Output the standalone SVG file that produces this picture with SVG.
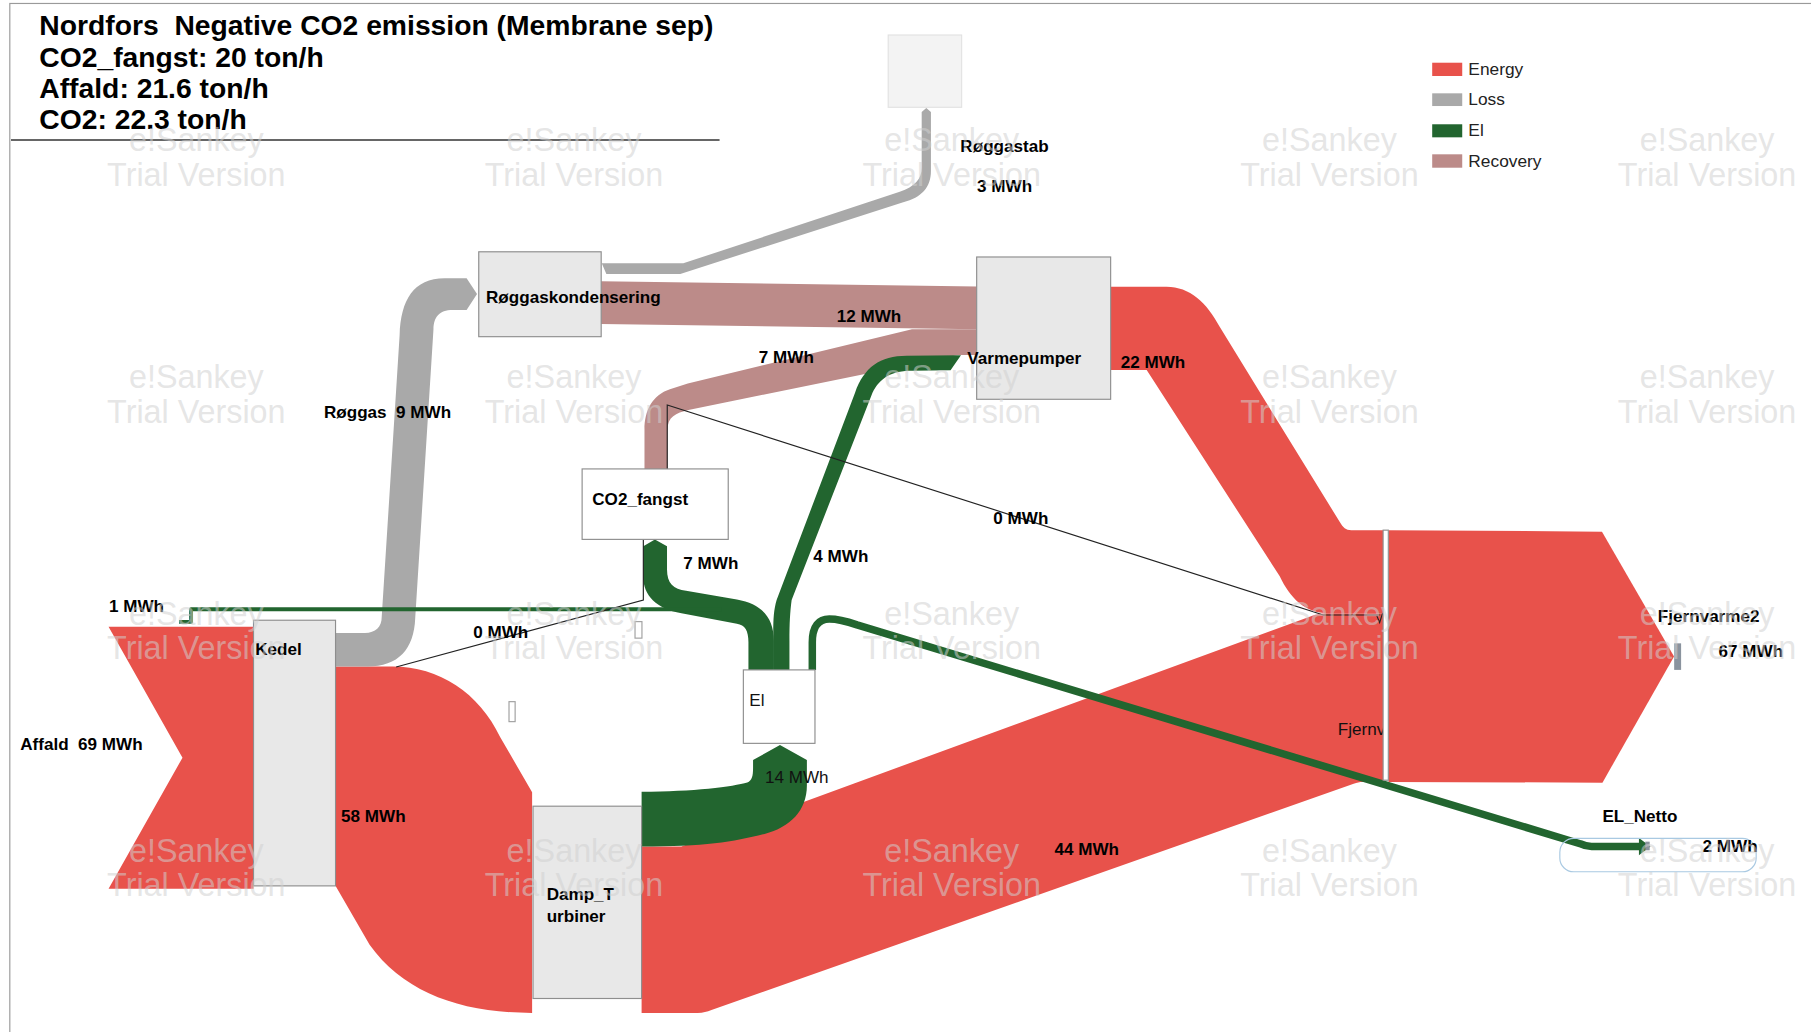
<svg xmlns="http://www.w3.org/2000/svg" width="1811" height="1032" viewBox="0 0 1811 1032">
<style>
  .energy{fill:#e8524b}
  .loss{fill:#a9a9a9}
  .el{fill:#22652f}
  .rec{fill:#bc8b89}
  .node{fill:#e8e8e8;stroke:#8e8e8e;stroke-width:1}
  .nodew{fill:#ffffff;stroke:#8e8e8e;stroke-width:1}
  .sink{fill:#8a939e}
  .hole{fill:#ffffff;stroke:#a0a0a0;stroke-width:1}
  .thin{fill:none;stroke:#222222;stroke-width:1}
  .elline{fill:none;stroke:#22652f;stroke-linejoin:round}
  text{font-family:"Liberation Sans",Arial,Helvetica,sans-serif}
  .lbl{font-size:14.8px;font-weight:bold;fill:#000}
  .reg{font-size:14.8px;fill:#111}
  .hdr{font-size:24.5px;font-weight:bold;fill:#000}
  .leg{font-size:15px;fill:#222}
  .wm{font-size:28px;fill:#d0d0d0;fill-opacity:.55;text-anchor:middle}
</style>
<defs>
  <clipPath id="fjclip"><rect x="1100" y="600" width="97.5" height="60"/></clipPath>
</defs>
<rect width="1811" height="1032" fill="#ffffff"/>
<g transform="scale(1.155)">
  <!-- outer frame -->
  <rect x="8.5" y="3" width="1580" height="905" fill="none" stroke="#9a9a9a" stroke-width="1"/>

  <!-- header -->
  <g id="header">
    <text class="hdr" x="34" y="30">Nordfors&#160; Negative CO2 emission (Membrane sep)</text>
    <text class="hdr" x="34" y="58">CO2_fangst: 20 ton/h</text>
    <text class="hdr" x="34" y="85">Affald: 21.6 ton/h</text>
    <text class="hdr" x="34" y="112">CO2: 22.3 ton/h</text>
    <line x1="9.5" y1="121.2" x2="623" y2="121.2" stroke="#333" stroke-width="1.2"/>
  </g>

  <!-- legend -->
  <g id="legend">
    <rect class="energy" x="1240" y="54.3" width="26" height="11.5"/>
    <text class="leg" x="1271.3" y="65">Energy</text>
    <rect class="loss" x="1240" y="80.8" width="26" height="11"/>
    <text class="leg" x="1271.3" y="91.3">Loss</text>
    <rect class="el" x="1240" y="107.6" width="26" height="11.3"/>
    <text class="leg" x="1271.3" y="117.8">El</text>
    <rect class="rec" x="1240" y="133.6" width="26" height="11.6"/>
    <text class="leg" x="1271.3" y="144.3">Recovery</text>
  </g>

  <!-- flows -->
  <g id="connectors">
    <!-- Affald input -->
    <path class="energy" d="M94,542.6 L219.5,542.6 L219.5,769.5 L94,769.5 L158,656 Z"/>
    <!-- Kedel to Damp_Turbiner, 58 MWh -->
    <path class="energy" d="M290.6,577 L340,577 C380,577 415,600 433,638 L460.7,686 L460.7,877 C400,877 350,860 320,818 L290.6,767 Z"/>
    <!-- Damp_Turbiner to Fjernvarme, 44 MWh -->
    <path class="energy" d="M555.5,733 L590,733 L1138,532.5 C1142,531.5 1146,531 1150,531 L1198,531 L1198,677 L1180,677 C1177,677 1175,677.5 1172,678.5 L616,874.5 C612,876 609,877 604,877 L555.5,877 Z"/>
    <!-- Varmepumper to Fjernvarme, 22 MWh -->
    <path class="energy" d="M961.6,248.2 L1010,248.2 C1030,248.2 1045,262 1056,283 L1160,452 C1163,457 1165,459 1170,459 L1198,459 L1198,531 L1150,531 C1130,531 1117,518 1108,499 L992.8,320.3 L961.6,320.3 Z"/>
    <!-- Fjernvarme to Fjernvarme2, 67 MWh -->
    <path class="energy" d="M1202.2,459 L1387,460.3 L1449.4,568.5 L1387.4,677.6 L1202.2,677 Z"/>

    <!-- Røggas, Kedel to Røggaskondensering -->
    <path class="loss" d="M290.6,548 L316,548 C325,548 330.5,543 330.5,534 L346,290 C347,260 358,241 385,241 L404,241 L413,254.5 L404,268.5 L392,268.5 C380,268.5 375.5,275 375.3,285 L359.5,535 C358.5,562 345,577 318,577 L290.6,577 Z"/>
    <!-- Røggastab, 3 MWh -->
    <path class="loss" d="M521,228 L591.6,228 L779,166 C792,161.5 798,155 798,145 L798,97 L802,93.5 L806,97 L806,148 C806,162 798,171 782,175 L589,237.2 L525,237.2 Z"/>

    <!-- Recovery 12 MWh -->
    <path class="rec" d="M520.4,243.5 L845.6,248 L845.6,285 L520.4,280.5 Z"/>
    <!-- Recovery 7 MWh, CO2_fangst to Varmepumper -->
    <path class="rec" d="M558,406 L558,372 C558,355 565,342 580,337 L595.5,332 L789.6,285 L845.6,285 L845.6,307.4 L829.5,307.4 L596,355 C585,357.5 578,361 578,372 L578,406 Z"/>

    <!-- El 14 MWh, Damp_Turbiner to El -->
    <path class="el" d="M555.5,685.5 C600,685.5 635,681 647,677.5 C651,676 652,672 652,665 L652,658 L675.3,645 L698.6,658 L698.6,680 C698.6,702 684,716 662,722 C635,729 610,733 555.5,733 Z"/>
    <!-- El 7 MWh, El to CO2_fangst -->
    <path class="el" d="M557,473 L567,467 L577.5,473 L577.5,493 C577.5,505 583,510 594,511.5 L638,519 C660,523 670,535 670,555 L670,580 L648,580 L648,556 C648,546 645,541 638,540 L590,531 C568,527 557,515 557,500 Z"/>
    <!-- El 4 MWh, El to Varmepumper -->
    <path class="el" d="M669.5,580 L669.5,548 C669.5,535 670,528 672.4,519.5 L740.3,340 C748,318 762,308 785,308 L832,307.5 L823,320.5 L790,321 C772,321 762,327 755.4,340 L685.4,519.5 C684,530 683.5,540 683.5,555 L683.5,580 Z"/>
    <!-- El 1 MWh to Kedel -->
    <path class="elline" stroke-width="3.3" d="M155,538.5 L165.4,538.5 L165.4,527.5 L625,527.5"/>
    <!-- El 2 MWh to EL_Netto -->
    <path class="elline" stroke-width="6.5" d="M703.3,580 L703.3,556 C703.3,542 709,536 718,536 C726,536 733,538 742,541 L1368,730.5 C1371,732 1374,733 1378,733 L1420,733"/>
    <polygon class="el" points="1419,725.5 1429,733 1419,740.5"/>

    <!-- zero flows -->
    <polyline class="thin" points="343,577.5 557,519.5 557,467"/>
    <polyline class="thin" points="577.7,406 577.7,350.6 1145.7,532.5 1195,532.5"/>
    <polyline class="thin" points="1192,533 1194.5,539 1197,531"/>

    <!-- flow values -->
    <text class="lbl" x="17.5" y="649.4">Affald&#160; 69 MWh</text>
    <text class="lbl" x="94.3" y="529.6">1 MWh</text>
    <text class="lbl" x="409.7" y="552.6">0 MWh</text>
    <text class="lbl" x="295.3" y="711.4">58 MWh</text>
    <text class="lbl" x="280.5" y="362.2">Røggas&#160; 9 MWh</text>
    <text class="lbl" x="846" y="166">3 MWh</text>
    <text class="lbl" x="724.4" y="278.5">12 MWh</text>
    <text class="lbl" x="657" y="314">7 MWh</text>
    <text class="lbl" x="970.3" y="318.3">22 MWh</text>
    <text class="lbl" x="860" y="454">0 MWh</text>
    <text class="lbl" x="704.2" y="486.3">4 MWh</text>
    <text class="lbl" x="591.6" y="493">7 MWh</text>
    <text class="reg" x="662.3" y="677.6">14 MWh</text>
    <text class="lbl" x="913" y="740">44 MWh</text>
  </g>

  <!-- nodes -->
  <g id="node-roggastab">
    <rect x="769" y="30.3" width="63.6" height="62.6" fill="#f3f3f3" stroke="#e2e2e2" stroke-width="1"/>
    <text class="lbl" x="831.5" y="131.3">Røggastab</text>
  </g>
  <g id="node-roggaskondensering">
    <rect class="node" x="414.5" y="218" width="106" height="73.5"/>
    <text class="lbl" x="420.8" y="262.6">Røggaskondensering</text>
  </g>
  <g id="node-varmepumper">
    <rect class="node" x="845.6" y="222.5" width="116" height="123.2"/>
    <text class="lbl" x="837.5" y="315.2">Varmepumper</text>
  </g>
  <g id="node-co2-fangst">
    <rect class="nodew" x="504" y="406" width="126.5" height="61"/>
    <text class="lbl" x="512.8" y="437.2">CO2_fangst</text>
  </g>
  <g id="node-kedel">
    <rect class="node" x="219.5" y="537" width="71" height="230"/>
    <text class="lbl" x="221" y="567">Kedel</text>
  </g>
  <g id="node-damp-turbiner">
    <rect class="node" x="461.5" y="698" width="94" height="166.5"/>
    <text class="lbl" x="473.3" y="779.2">Damp_T</text>
    <text class="lbl" x="473.3" y="798">urbiner</text>
  </g>
  <g id="node-el">
    <rect class="nodew" x="643.6" y="580" width="62" height="63.6"/>
    <text class="reg" x="648.8" y="611.3">El</text>
  </g>
  <g id="node-fjernvarme">
    <text class="reg" x="1158.2" y="636.4" clip-path="url(#fjclip)">Fjernvarme</text>
    <rect class="nodew" x="1197.5" y="459" width="4.5" height="216.5"/>
  </g>
  <g id="node-fjernvarme2">
    <rect class="sink" x="1449.5" y="557" width="6" height="23"/>
    <text class="lbl" x="1435.4" y="538.2">Fjernvarme2</text>
    <text class="lbl" x="1488" y="568.5">67 MWh</text>
  </g>
  <g id="node-el-netto">
    <rect x="1350.5" y="725.8" width="170" height="29" rx="12" fill="none" stroke="#a9c9e2" stroke-width="1"/>
    <rect class="sink" x="1424.5" y="728.7" width="3.8" height="7.5"/>
    <text class="lbl" x="1387.4" y="711.4">EL_Netto</text>
    <text class="lbl" x="1474.1" y="737.4">2 MWh</text>
  </g>
  <g id="node-small-1"><rect class="hole" x="549.8" y="538.2" width="6" height="14.3"/></g>
  <g id="node-small-2"><rect class="hole" x="440.7" y="607.5" width="5.3" height="17.3"/></g>

  <!-- trial watermark -->
  <g id="watermark">
    <text class="wm" x="170" y="131">e!Sankey</text><text class="wm" x="170" y="161">Trial Version</text>
    <text class="wm" x="497" y="131">e!Sankey</text><text class="wm" x="497" y="161">Trial Version</text>
    <text class="wm" x="824" y="131">e!Sankey</text><text class="wm" x="824" y="161">Trial Version</text>
    <text class="wm" x="1151" y="131">e!Sankey</text><text class="wm" x="1151" y="161">Trial Version</text>
    <text class="wm" x="1478" y="131">e!Sankey</text><text class="wm" x="1478" y="161">Trial Version</text>
    <text class="wm" x="170" y="336">e!Sankey</text><text class="wm" x="170" y="366">Trial Version</text>
    <text class="wm" x="497" y="336">e!Sankey</text><text class="wm" x="497" y="366">Trial Version</text>
    <text class="wm" x="824" y="336">e!Sankey</text><text class="wm" x="824" y="366">Trial Version</text>
    <text class="wm" x="1151" y="336">e!Sankey</text><text class="wm" x="1151" y="366">Trial Version</text>
    <text class="wm" x="1478" y="336">e!Sankey</text><text class="wm" x="1478" y="366">Trial Version</text>
    <text class="wm" x="170" y="541">e!Sankey</text><text class="wm" x="170" y="571">Trial Version</text>
    <text class="wm" x="497" y="541">e!Sankey</text><text class="wm" x="497" y="571">Trial Version</text>
    <text class="wm" x="824" y="541">e!Sankey</text><text class="wm" x="824" y="571">Trial Version</text>
    <text class="wm" x="1151" y="541">e!Sankey</text><text class="wm" x="1151" y="571">Trial Version</text>
    <text class="wm" x="1478" y="541">e!Sankey</text><text class="wm" x="1478" y="571">Trial Version</text>
    <text class="wm" x="170" y="746">e!Sankey</text><text class="wm" x="170" y="776">Trial Version</text>
    <text class="wm" x="497" y="746">e!Sankey</text><text class="wm" x="497" y="776">Trial Version</text>
    <text class="wm" x="824" y="746">e!Sankey</text><text class="wm" x="824" y="776">Trial Version</text>
    <text class="wm" x="1151" y="746">e!Sankey</text><text class="wm" x="1151" y="776">Trial Version</text>
    <text class="wm" x="1478" y="746">e!Sankey</text><text class="wm" x="1478" y="776">Trial Version</text>
  </g>
</g>
</svg>
